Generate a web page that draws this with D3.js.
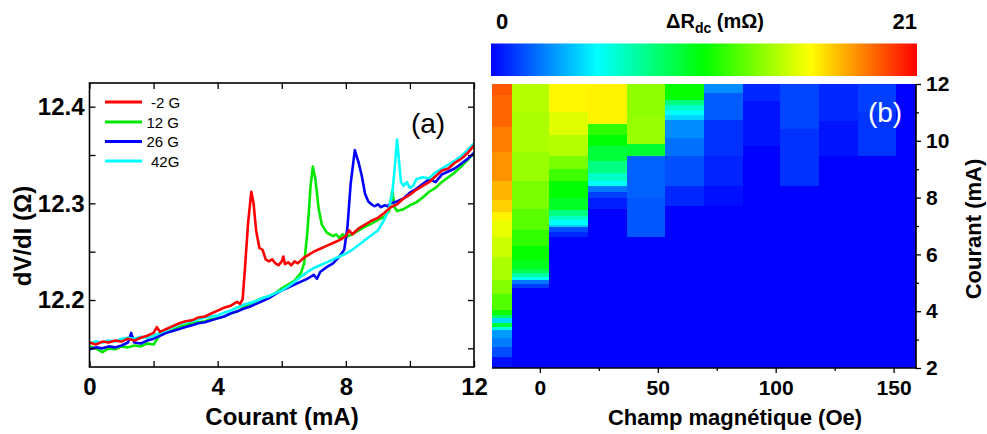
<!DOCTYPE html>
<html><head><meta charset="utf-8">
<script src="https://cdn.jsdelivr.net/npm/d3@7"></script>
<style>
body{margin:0;background:#fff;}
svg text{font-family:"Liberation Sans",Arial,sans-serif;}
</style></head>
<body><svg id="c" width="987" height="434"></svg>
<script>
// ---------- Panel (a) data : dV/dI (Ohm) vs current (mA) ----------
const seriesNames = ["-2 G", "12 G", "26 G", "42G"];
const seriesColors = ["#ff0000", "#00e800", "#0000ff", "#00ffff"];
const red = [[0.0,12.156],[0.2,12.154],[0.4,12.157],[0.6,12.156],[0.8,12.158],[1.0,12.157],[1.2,12.160],[1.4,12.158],[1.6,12.161],[1.8,12.163],[2.0,12.166],[2.1,12.172],[2.2,12.167],[2.4,12.170],[2.6,12.173],[2.8,12.176],[3.0,12.178],[3.2,12.179],[3.4,12.182],[3.6,12.183],[3.8,12.186],[4.0,12.189],[4.2,12.192],[4.4,12.194],[4.6,12.198],[4.7,12.196],[4.78,12.201],[4.85,12.232],[4.95,12.280],[5.05,12.312],[5.12,12.300],[5.2,12.272],[5.3,12.254],[5.4,12.252],[5.5,12.242],[5.6,12.240],[5.7,12.242],[5.8,12.238],[5.9,12.236],[6.0,12.240],[6.05,12.245],[6.1,12.237],[6.2,12.239],[6.3,12.236],[6.4,12.240],[6.5,12.238],[6.6,12.241],[6.7,12.244],[6.8,12.246],[7.0,12.250],[7.2,12.253],[7.4,12.256],[7.6,12.259],[7.8,12.262],[8.0,12.266],[8.1,12.272],[8.2,12.268],[8.4,12.274],[8.6,12.278],[8.8,12.282],[9.0,12.285],[9.2,12.290],[9.4,12.296],[9.6,12.299],[9.8,12.305],[10.0,12.309],[10.2,12.314],[10.4,12.318],[10.6,12.322],[10.8,12.328],[11.0,12.334],[11.2,12.336],[11.4,12.342],[11.6,12.346],[11.8,12.352],[12.0,12.360]];
const green = [[0.0,12.152],[0.2,12.150],[0.4,12.146],[0.6,12.150],[0.8,12.149],[1.0,12.152],[1.2,12.151],[1.4,12.153],[1.6,12.152],[1.8,12.155],[2.0,12.154],[2.2,12.164],[2.4,12.166],[2.6,12.169],[2.8,12.172],[3.0,12.174],[3.2,12.176],[3.4,12.177],[3.6,12.178],[3.8,12.180],[4.0,12.181],[4.2,12.183],[4.4,12.186],[4.6,12.188],[4.8,12.192],[5.0,12.196],[5.2,12.199],[5.4,12.202],[5.6,12.204],[5.8,12.207],[6.0,12.212],[6.2,12.216],[6.4,12.220],[6.6,12.228],[6.7,12.238],[6.8,12.270],[6.9,12.318],[6.97,12.338],[7.05,12.325],[7.15,12.295],[7.25,12.278],[7.4,12.270],[7.5,12.268],[7.6,12.266],[7.7,12.268],[7.8,12.264],[7.9,12.268],[8.0,12.265],[8.2,12.268],[8.4,12.272],[8.6,12.276],[8.8,12.279],[9.0,12.283],[9.2,12.286],[9.35,12.292],[9.45,12.313],[9.52,12.296],[9.6,12.292],[9.8,12.294],[10.0,12.298],[10.2,12.301],[10.4,12.306],[10.6,12.312],[10.8,12.316],[11.0,12.322],[11.2,12.327],[11.4,12.332],[11.6,12.338],[11.8,12.345],[12.0,12.352]];
const blue = [[0.0,12.149],[0.2,12.151],[0.4,12.150],[0.6,12.152],[0.8,12.151],[1.0,12.153],[1.2,12.156],[1.3,12.166],[1.4,12.156],[1.6,12.155],[1.8,12.158],[2.0,12.160],[2.2,12.163],[2.4,12.166],[2.6,12.168],[2.8,12.170],[3.0,12.172],[3.2,12.174],[3.4,12.176],[3.6,12.177],[3.8,12.179],[4.0,12.181],[4.2,12.183],[4.4,12.186],[4.6,12.188],[4.8,12.191],[5.0,12.193],[5.2,12.196],[5.4,12.199],[5.6,12.202],[5.8,12.206],[6.0,12.210],[6.2,12.213],[6.4,12.216],[6.6,12.219],[6.8,12.222],[7.0,12.226],[7.1,12.222],[7.2,12.229],[7.4,12.234],[7.6,12.238],[7.8,12.245],[7.95,12.252],[8.05,12.275],[8.15,12.320],[8.28,12.355],[8.4,12.342],[8.5,12.328],[8.6,12.310],[8.7,12.302],[8.8,12.299],[8.9,12.297],[9.0,12.299],[9.1,12.296],[9.2,12.298],[9.3,12.297],[9.4,12.300],[9.6,12.302],[9.8,12.305],[10.0,12.311],[10.2,12.315],[10.4,12.320],[10.6,12.325],[10.8,12.322],[11.0,12.330],[11.2,12.333],[11.4,12.336],[11.6,12.341],[11.8,12.346],[12.0,12.352]];
const cyan = [[0.0,12.155],[0.2,12.157],[0.4,12.156],[0.6,12.158],[0.8,12.157],[1.0,12.160],[1.2,12.161],[1.4,12.160],[1.6,12.162],[1.8,12.161],[2.0,12.163],[2.2,12.166],[2.4,12.169],[2.6,12.172],[2.8,12.175],[3.0,12.177],[3.2,12.178],[3.4,12.180],[3.6,12.182],[3.8,12.183],[4.0,12.184],[4.2,12.187],[4.4,12.189],[4.6,12.192],[4.8,12.195],[5.0,12.197],[5.2,12.199],[5.4,12.202],[5.6,12.204],[5.8,12.207],[6.0,12.210],[6.2,12.214],[6.4,12.219],[6.6,12.224],[6.8,12.229],[7.0,12.233],[7.2,12.236],[7.4,12.239],[7.6,12.242],[7.8,12.245],[8.0,12.248],[8.2,12.252],[8.4,12.257],[8.6,12.262],[8.8,12.267],[9.0,12.272],[9.2,12.283],[9.35,12.295],[9.45,12.310],[9.52,12.335],[9.6,12.366],[9.67,12.340],[9.72,12.322],[9.8,12.318],[9.9,12.322],[10.0,12.316],[10.1,12.318],[10.2,12.325],[10.4,12.327],[10.6,12.326],[10.8,12.332],[11.0,12.336],[11.2,12.340],[11.4,12.344],[11.6,12.349],[11.8,12.355],[12.0,12.362]];
const drawOrder = [1, 2, 3, 0];
const xTicksA = [0, 2, 4, 6, 8, 10, 12];
const xLabelsA = [0, 4, 8, 12];
const yTicksA = [12.15, 12.2, 12.25, 12.3, 12.35, 12.4];
const yLabelsA = [12.2, 12.3, 12.4];

// ---------- Panel (b) data : Delta R_dc (mOhm) map ----------
const fields = [-20, -4, 12, 29, 45, 61, 78, 94, 110, 127, 143, 159]; // Oe
// bands per field column: [current low, current high, value mOhm]; elsewhere 0
const bands_m20 = [[11.6,12,19.2],[10.5,11.6,18.9],[9.6,10.5,18.4],[8.6,9.6,18.0],[7.9,8.6,17.3],[7.5,7.9,16.7],[7.2,7.5,16.0],[6.6,7.2,15.3],[5.9,6.6,14.7],[5.1,5.9,14.0],[4.6,5.1,13.2],[4.05,4.6,12.2],[3.85,4.05,10.8],[3.75,3.85,8.5],[3.6,3.75,4.5],[3.45,3.6,9.3],[3.35,3.45,5.8],[3.05,3.35,3.2],[2.75,3.05,2.6],[2.4,2.75,1.6],[2,2.4,0.3]];
const bands_m4 = [[11,12,14.2],[9.6,11,14.0],[8.6,9.6,13.6],[7.6,8.6,13.0],[6.85,7.6,12.3],[6.3,6.85,11.5],[5.8,6.3,10.6],[5.5,5.8,9.9],[5.35,5.5,8.9],[5.2,5.35,7.2],[5.1,5.2,5.3],[4.95,5.1,2.4],[4.8,4.95,1.2]];
const bands_12 = [[11,12,15.9],[10.2,11,15.1],[9.45,10.2,14.2],[9.0,9.45,13.0],[8.6,9.0,11.8],[8.0,8.6,10.5],[7.55,8.0,9.7],[7.35,7.55,7.9],[7.2,7.35,6.4],[7.05,7.2,5.25],[6.95,7.05,4.2],[6.8,6.95,1.6],[6.6,6.8,0.8]];
const bands_29 = [[10.6,12,16.0],[10.2,10.6,11.5],[9.8,10.2,10.5],[9.3,9.8,9.3],[8.85,9.3,7.8],[8.6,8.85,6.4],[8.4,8.6,5.25],[8.2,8.4,2.5],[8.0,8.2,1.3],[7.6,8.0,0.6]];
const bands_45 = [[10.8,12,13.4],[9.9,10.8,13.6],[9.45,9.9,9.5],[8.0,9.45,2.0],[6.6,8.0,1.8]];
const bands_61 = [[11.45,12,10.6],[11.25,11.45,7.9],[11.1,11.25,6.4],[10.9,11.1,5.25],[10.75,10.9,4.4],[10.1,10.75,2.9],[9.45,10.1,2.3],[8.4,9.45,1.65],[7.7,8.4,0.8]];
const bands_78 = [[11.7,12,2.9],[10.75,11.7,1.9],[9.45,10.75,1.0],[8.4,9.45,0.7],[7.7,8.4,0.3]];
const bands_94 = [[11.4,12,0.8],[9.8,11.4,0.4]];
const bands_110 = [[10.4,12,1.4],[8.4,10.4,1.0]];
const bands_127 = [[10.7,12,0.8],[9.45,10.7,0.4]];
const bands_143 = [[11,12,1.3],[9.45,11,1.1]];
const bands_159 = [];
const bandsByField = [bands_m20, bands_m4, bands_12, bands_29, bands_45, bands_61, bands_78, bands_94, bands_110, bands_127, bands_143, bands_159];
const cbStops = [0, 5.25, 10.5, 15.75, 21];
const cbColors = ["#0000ff", "#00ffff", "#00ff00", "#ffff00", "#ff0000"];
const xTicksB = [0, 50, 100, 150];
const xMinorB = [25, 75, 125];
const yTicksB = [2, 4, 6, 8, 10, 12];
const yMinorB = [3, 5, 7, 9, 11];

const svg = d3.select("#c");

// ================= Panel (a) =================
const xA = d3.scaleLinear().domain([0, 12]).range([89.5, 474]);
const yA = d3.scaleLinear().domain([12.1307, 12.4245]).range([367, 83]);
const gA = svg.append("g");
const allSeries = [red, green, blue, cyan];
const line = d3.line().x(d => xA(d[0])).y(d => yA(d[1]));
gA.append("clipPath").attr("id", "clipA").append("rect")
  .attr("x", 89.5).attr("y", 83).attr("width", 384.5).attr("height", 284);
drawOrder.forEach(i => {
  gA.append("path").datum(allSeries[i]).attr("d", line)
    .attr("fill", "none").attr("stroke", seriesColors[i]).attr("stroke-width", 2.6)
    .attr("stroke-linejoin", "round").attr("clip-path", "url(#clipA)");
});
function styleAxis(g, size) {
  g.select(".domain").remove();
  g.selectAll(".tick line").attr("stroke", "#000").attr("stroke-width", 1.3);
  g.selectAll(".tick text").attr("font-size", size).attr("font-weight", "bold")
    .attr("fill", "#000").attr("font-family", "'Liberation Sans',Arial,sans-serif");
}
const fmtX = d => xLabelsA.includes(d) ? d : "";
const fmtY = d => yLabelsA.some(v => Math.abs(v - d) < 1e-9) ? d3.format(".1f")(d) : "";
gA.append("g").attr("transform", "translate(0,367)")
  .call(d3.axisBottom(xA).tickValues(xTicksA).tickSize(-6).tickPadding(11).tickFormat(fmtX))
  .call(g => styleAxis(g, 24));
gA.append("g").attr("transform", "translate(0,83)")
  .call(d3.axisTop(xA).tickValues(xTicksA).tickSize(-6).tickFormat(""))
  .call(g => styleAxis(g, 24));
gA.append("g").attr("transform", "translate(89.5,0)")
  .call(d3.axisLeft(yA).tickValues(yTicksA).tickSize(-6).tickPadding(5).tickFormat(fmtY))
  .call(g => styleAxis(g, 24));
gA.append("g").attr("transform", "translate(474,0)")
  .call(d3.axisRight(yA).tickValues(yTicksA).tickSize(-6).tickFormat(""))
  .call(g => styleAxis(g, 24));
gA.append("rect").attr("x", 89.5).attr("y", 83).attr("width", 384.5).attr("height", 284)
  .attr("fill", "none").attr("stroke", "#000").attr("stroke-width", 1.6);
gA.append("text").attr("x", 282).attr("y", 425).attr("text-anchor", "middle")
  .attr("font-size", 24).attr("font-weight", "bold").text("Courant (mA)");
gA.append("text").attr("transform", "translate(31,236) rotate(-90)").attr("text-anchor", "middle")
  .attr("font-size", 24).attr("font-weight", "bold").text("dV/dI (\u03A9)");
gA.append("text").attr("x", 428).attr("y", 133).attr("text-anchor", "middle")
  .attr("font-size", 28).text("(a)");
// legend
const legY = [102, 122, 141.5, 161];
seriesNames.forEach((n, i) => {
  gA.append("line").attr("x1", 105).attr("x2", 142).attr("y1", legY[i]).attr("y2", legY[i])
    .attr("stroke", seriesColors[i]).attr("stroke-width", 3);
  gA.append("text").attr("x", (n.startsWith("-") || n === "42G") ? 151 : 146.5).attr("y", legY[i] + 5.5)
    .attr("font-size", 15).text(n);
});

// ================= Panel (b) =================
const xB = d3.scaleLinear().domain([-20.3, 159.5]).range([492, 916]);
const yB = d3.scaleLinear().domain([2, 12]).range([368, 84]);
const color = d3.scaleLinear().domain(cbStops).range(cbColors);
const gB = svg.append("g");
const dom = xB.domain();
fields.forEach((f, i) => {
  const lo = i === 0 ? dom[0] : (fields[i - 1] + f) / 2;
  const hi = i === fields.length - 1 ? dom[1] : (f + fields[i + 1]) / 2;
  const x0 = xB(lo), x1 = xB(hi);
  gB.append("rect").attr("x", x0).attr("width", x1 - x0).attr("y", yB(12)).attr("height", yB(2) - yB(12))
    .attr("fill", color(0)).attr("shape-rendering", "crispEdges");
  gB.selectAll(null).data(bandsByField[i]).enter().append("rect")
    .attr("x", x0).attr("width", x1 - x0)
    .attr("y", d => yB(d[1])).attr("height", d => yB(d[0]) - yB(d[1]))
    .attr("fill", d => color(d[2])).attr("shape-rendering", "crispEdges");
});
gB.append("g").attr("transform", "translate(0,368)")
  .call(d3.axisBottom(xB).tickValues(xMinorB).tickSize(3).tickSizeOuter(0).tickFormat(""))
  .call(g => styleAxis(g, 21));
gB.append("g").attr("transform", "translate(0,368)")
  .call(d3.axisBottom(xB).tickValues(xTicksB).tickSize(5).tickSizeOuter(0).tickPadding(7).tickFormat(d3.format("d")))
  .call(g => { styleAxis(g, 21); });
gB.append("g").attr("transform", "translate(916,0)")
  .call(d3.axisRight(yB).tickValues(yMinorB).tickSize(3).tickSizeOuter(0).tickFormat(""))
  .call(g => styleAxis(g, 21));
gB.append("g").attr("transform", "translate(916,0)")
  .call(d3.axisRight(yB).tickValues(yTicksB).tickSize(5).tickSizeOuter(0).tickPadding(5).tickFormat(d3.format("d")))
  .call(g => styleAxis(g, 21));
gB.append("line").attr("x1", 492).attr("x2", 916.8).attr("y1", 368).attr("y2", 368)
  .attr("stroke", "#000").attr("stroke-width", 1.6);
gB.append("line").attr("x1", 916).attr("x2", 916).attr("y1", 84).attr("y2", 368.8)
  .attr("stroke", "#000").attr("stroke-width", 1.6);
gB.append("text").attr("x", 735).attr("y", 425).attr("text-anchor", "middle")
  .attr("font-size", 22).attr("font-weight", "bold").text("Champ magn\u00E9tique (Oe)");
gB.append("text").attr("transform", "translate(980.5,229) rotate(-90)").attr("text-anchor", "middle")
  .attr("font-size", 22).attr("font-weight", "bold").text("Courant (mA)");
gB.append("text").attr("x", 885).attr("y", 122).attr("text-anchor", "middle")
  .attr("font-size", 28).attr("fill", "#fff").text("(b)");

// colour bar
const defs = svg.append("defs");
const grad = defs.append("linearGradient").attr("id", "jet").attr("x1", "0%").attr("x2", "100%");
cbStops.forEach((s, i) => grad.append("stop").attr("offset", (s / 21 * 100) + "%").attr("stop-color", cbColors[i]));
const cbScale = d3.scaleLinear().domain([0, 21]).range([491, 917]);
svg.append("rect").attr("x", cbScale(0)).attr("y", 43.5).attr("width", cbScale(21) - cbScale(0)).attr("height", 32.5)
  .attr("fill", "url(#jet)");
svg.append("text").attr("x", cbScale(0) + 5).attr("y", 29).attr("font-family", "'Liberation Serif','Times New Roman',serif")
  .attr("font-weight", "bold").attr("font-size", 22).text("0");
svg.append("text").attr("x", cbScale(21)).attr("y", 29).attr("text-anchor", "end").attr("font-family", "'Liberation Serif','Times New Roman',serif")
  .attr("font-weight", "bold").attr("font-size", 22).text("21");
const cbT = svg.append("text").attr("x", 715).attr("y", 28).attr("text-anchor", "middle")
  .attr("font-size", 20).attr("font-weight", "bold");
cbT.append("tspan").text("\u0394R");
cbT.append("tspan").attr("font-size", 14).attr("dy", 5).text("dc");
cbT.append("tspan").attr("dy", -5).text(" (m\u03A9)");
</script></body></html>
